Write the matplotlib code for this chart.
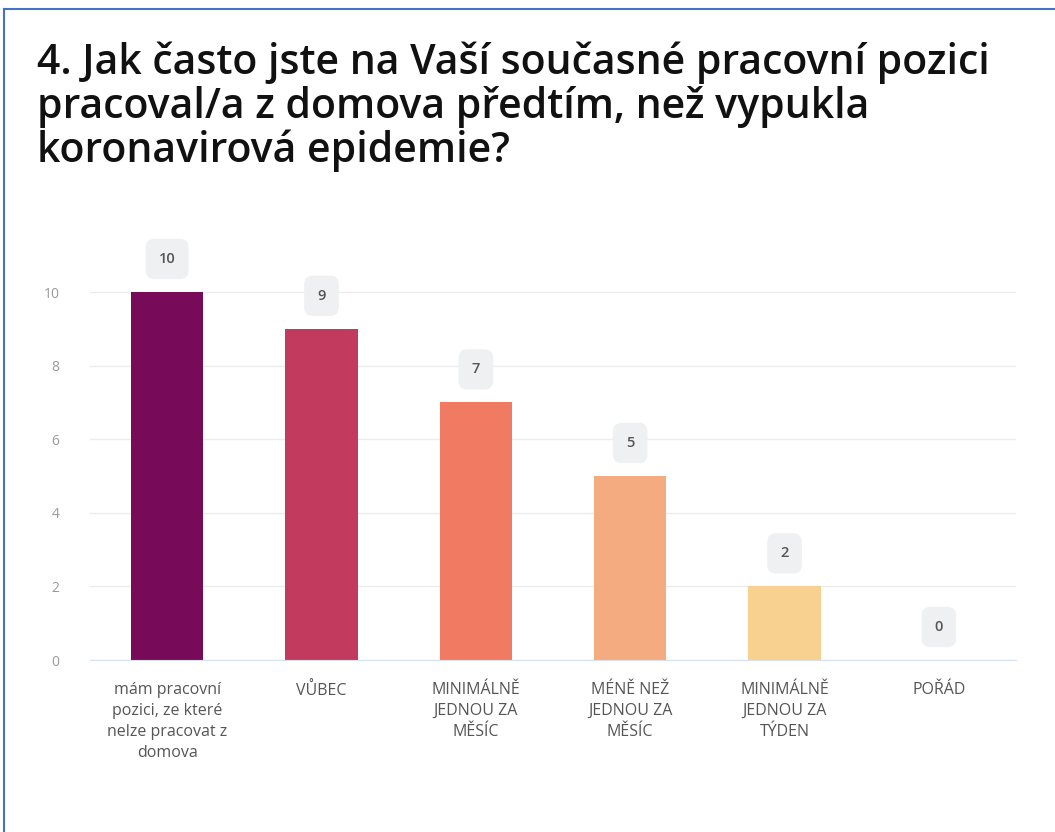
import matplotlib
matplotlib.use("Agg")
import matplotlib.pyplot as plt
from matplotlib.lines import Line2D

# data
categories = [
    "mám pracovní\npozici, ze které\nnelze pracovat z\ndomova",
    "VŮBEC",
    "MINIMÁLNĚ\nJEDNOU ZA\nMĚSÍC",
    "MÉNĚ NEŽ\nJEDNOU ZA\nMĚSÍC",
    "MINIMÁLNĚ\nJEDNOU ZA\nTÝDEN",
    "POŘÁD",
]
counts = [10, 9, 7, 5, 2, 0]
bar_colors = ["#780A5A", "#C23B5E", "#F07A62", "#F5AB80", "#F8D08F", "#FBE6A8"]
y_ticks = [0, 2, 4, 6, 8, 10]

title = ("4. Jak často jste na Vaší současné pracovní pozici\n"
         "pracoval/a z domova předtím, než vypukla\n"
         "koronavirová epidemie?")

plt.rcParams["font.family"] = ["Open Sans", "DejaVu Sans"]

fig = plt.figure(figsize=(10.55, 8.32), dpi=100)
W, H = 1055, 832
ax = fig.add_axes([90 / W, 1 - 660 / H, (1016 - 90) / W, (660 - 292) / H / 10 * 11.2])

x = range(len(categories))
ax.bar(x, counts, width=0.47, color=bar_colors, zorder=3)
ax.set_xlim(-0.5, len(categories) - 0.5)
ax.set_ylim(0, 11.2)

ax.set_yticks(y_ticks)
ax.set_yticklabels([str(t) for t in y_ticks], fontsize=10, color="#9a9a9a")
ax.set_xticks(list(x))
ax.set_xticklabels(categories, fontsize=11.5, color="#555555", linespacing=1.4, va="top")
ax.tick_params(axis="both", length=0)
ax.tick_params(axis="y", pad=22)
ax.tick_params(axis="x", pad=16)

ax.grid(axis="y", color="#ebebeb", linewidth=1, zorder=0)
for s in ["top", "right", "left"]:
    ax.spines[s].set_visible(False)
ax.spines["bottom"].set_color("#d6e2ef")
ax.spines["bottom"].set_zorder(4)

# value labels in rounded gray boxes
for i, v in enumerate(counts):
    ax.annotate(str(v), (i, v), xytext=(0, 33), textcoords="offset pixels",
                ha="center", va="center", fontsize=10.5, fontweight="semibold",
                color="#555555",
                bbox=dict(boxstyle="round,pad=0.9,rounding_size=0.6",
                          fc="#eef0f1", ec="none"), zorder=5)

fig.text(37 / W, 1 - 42 / H, title, fontsize=29.5, fontweight="semibold",
         color="#111111", va="top", ha="left", linespacing=1.05)

# screenshot border
fig.add_artist(Line2D([4 / W, 4 / W], [0, 1 - 9 / H], color="#4472C4", lw=1.5))
fig.add_artist(Line2D([4 / W, 1], [1 - 9 / H, 1 - 9 / H], color="#4472C4", lw=1.5))

fig.savefig("out.png", dpi=100)
